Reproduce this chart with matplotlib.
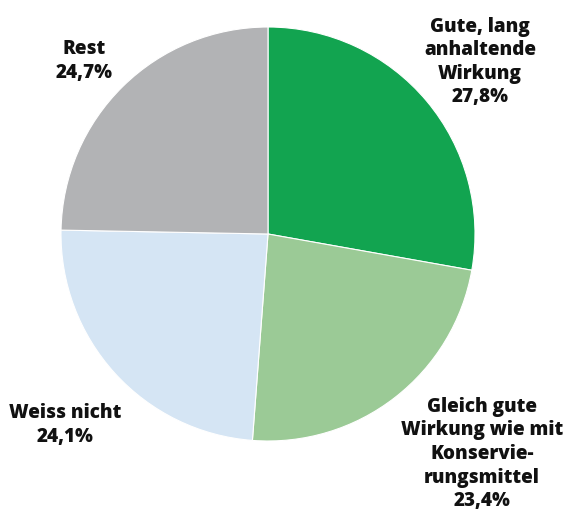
import matplotlib
import matplotlib.pyplot as plt

matplotlib.use("Agg")

# Shares (percent), clockwise from 12 o'clock
labels = [
    "Gute, lang\nanhaltende\nWirkung",
    "Gleich gute\nWirkung wie mit\nKonservie-\nrungsmittel",
    "Weiss nicht",
    "Rest",
]
values = [27.8, 23.4, 24.1, 24.7]
colors = ["#12a450", "#9bca96", "#d5e5f4", "#b2b3b5"]

# label anchor positions in pixel coordinates (x, y from top)
label_pos = [(480, 62), (482, 454), (65, 425), (84, 61)]

W, H = 565, 513
fig = plt.figure(figsize=(W / 100, H / 100), dpi=100)
ax = fig.add_axes([0, 0, 1, 1])

ax.pie(
    values,
    colors=colors,
    startangle=90,
    counterclock=False,
    center=(268, H - 234),
    radius=207,
    wedgeprops=dict(edgecolor="white", linewidth=0.8),
    frame=True,
)
ax.set_xlim(0, W)
ax.set_ylim(0, H)
ax.set_aspect("equal")
ax.axis("off")

for lab, val, (x, y) in zip(labels, values, label_pos):
    text = f"{lab}\n{val:.1f}%".replace(".", ",")
    ax.text(
        x, H - y, text,
        ha="center", va="center",
        fontsize=13.6, fontweight=800,
        family=["Open Sans", "DejaVu Sans"],
        linespacing=1.24,
        color="#111111",
    )

fig.savefig("out.png", dpi=100)
